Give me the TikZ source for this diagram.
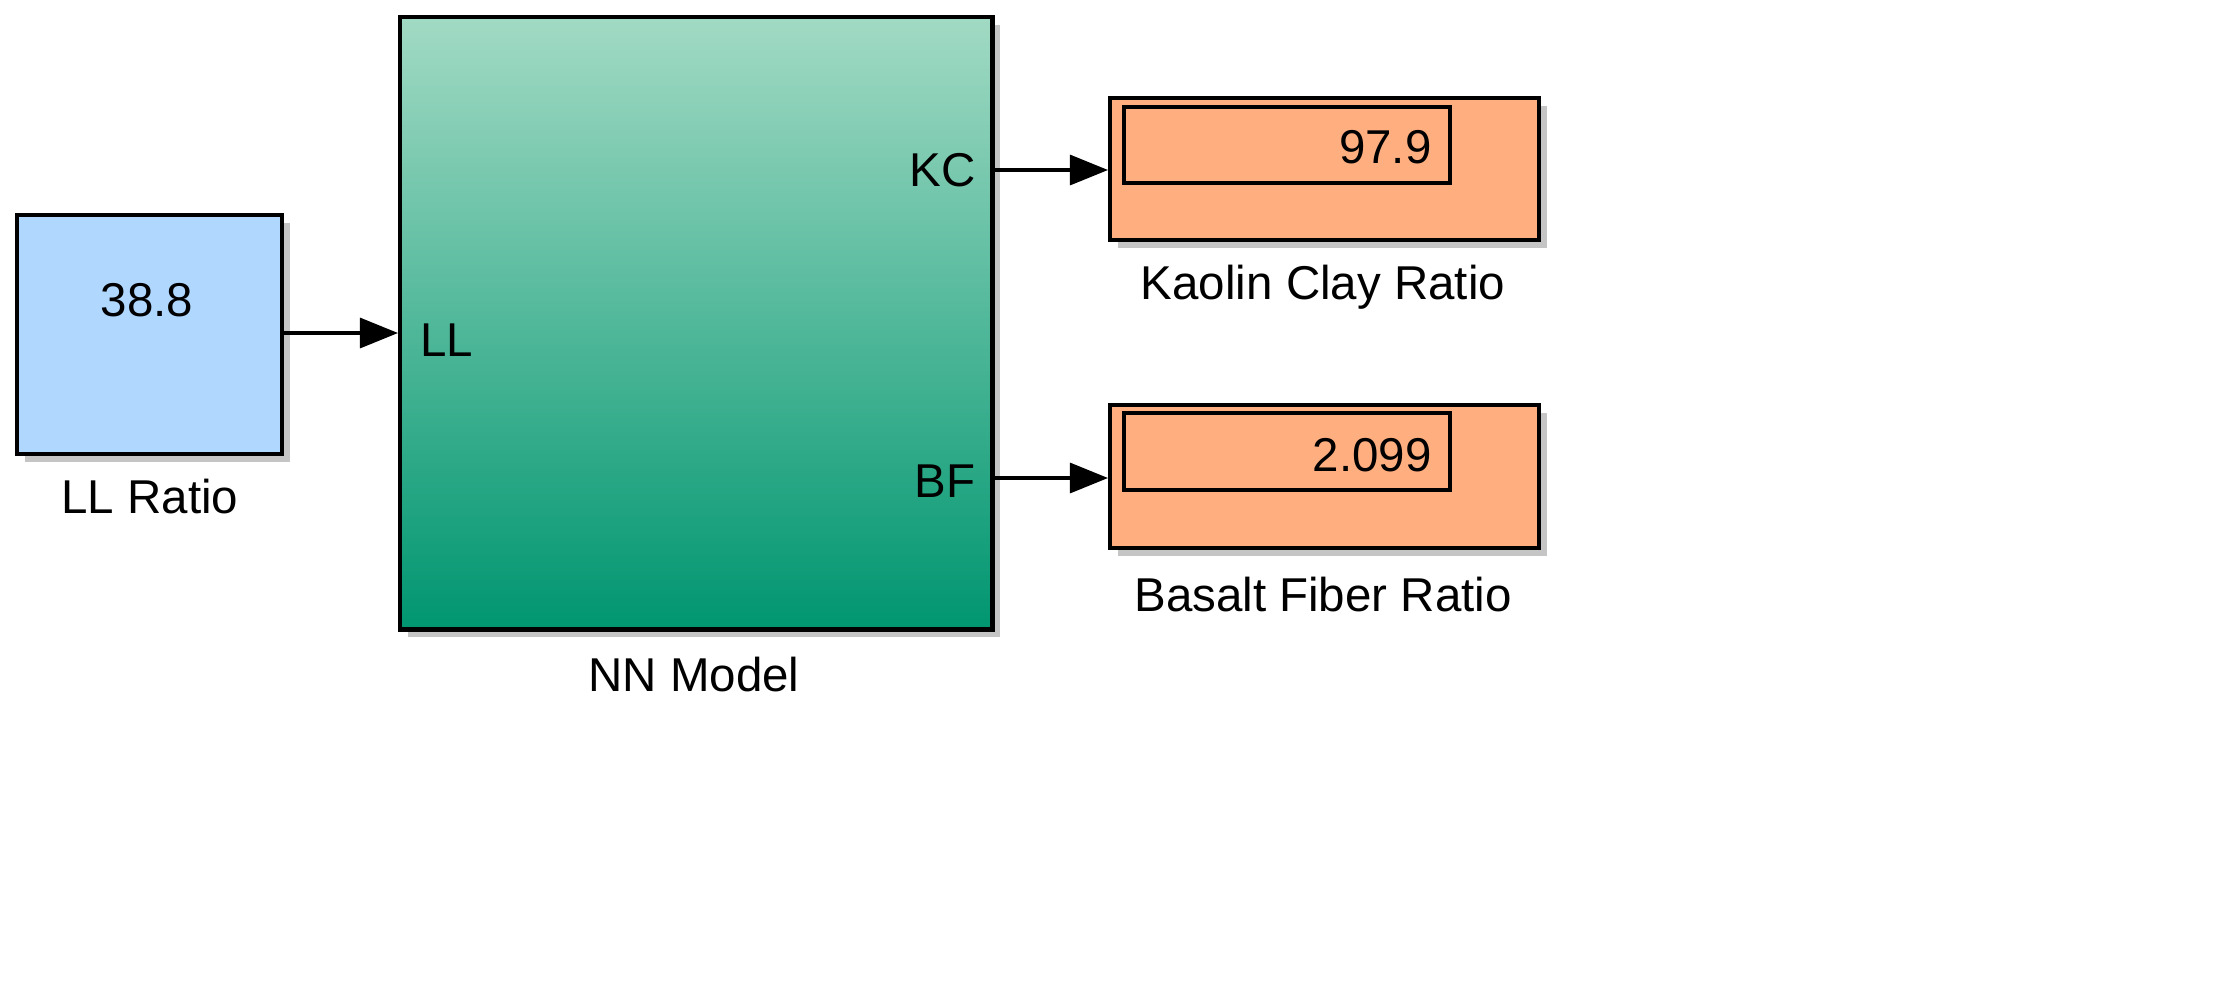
\documentclass[tikz,border=0pt]{standalone}
\usepackage{fontspec}
\setmainfont{Liberation Sans}
\usetikzlibrary{shadows,arrows.meta}
\definecolor{srcblue}{HTML}{B0D8FF}
\definecolor{nntop}{HTML}{A2DAC4}
\definecolor{nnmid}{HTML}{5DBB9A}
\definecolor{nnbot}{HTML}{009670}
\definecolor{dispfill}{HTML}{FFAE80}
\tikzset{
  blk/.style={draw=black, line width=1.2pt, drop shadow={shadow xshift=0.08cm, shadow yshift=-0.08cm, fill=black!45}},
  lbl/.style={font=\fontsize{13.5}{16}\selectfont},
  sig/.style={line width=0.9pt, -{Triangle[length=0.38cm, width=0.3cm]}}
}
\begin{document}
\begin{tikzpicture}[x=0.01cm, y=-0.01cm]
  \useasboundingbox (0,0) rectangle (2217,993);

  % Source block
  \node[blk, fill=srcblue, minimum width=2.65cm, minimum height=2.39cm, anchor=north west] (src) at (15,213) {};
  \node[lbl] (srcval) at (147,300) {38.8};
  \node[lbl] (srclbl) at (150,497) {LL Ratio};

  % Model block
  \node[blk, top color=nntop, middle color=nnmid, bottom color=nnbot, minimum width=5.92cm, minimum height=6.12cm, anchor=north west] (nn) at (398,15) {};
  \node[lbl] (nnlbl) at (694,675) {NN Model};
  \node[lbl, anchor=west] (portll) at (408,340) {LL};
  \node[lbl, anchor=east] (portkc) at (988,170) {KC};
  \node[lbl, anchor=east] (portbf) at (988,481) {BF};
  \coordinate (inll) at (398,333);
  \coordinate (outkc) at (990,170);
  \coordinate (outbf) at (990,478);

  % Displays
  \node[blk, fill=dispfill, minimum width=4.29cm, minimum height=1.42cm, anchor=north west] (kc) at (1108,96) {};
  \draw[line width=1.2pt] (1124,107) rectangle (1450,183);
  \node[lbl, anchor=east] (kcval) at (1444,147) {97.9};
  \node[lbl] (kclbl) at (1323,287) {Kaolin Clay Ratio};

  \node[blk, fill=dispfill, minimum width=4.29cm, minimum height=1.43cm, anchor=north west] (bf) at (1108,403) {};
  \draw[line width=1.2pt] (1124,413) rectangle (1450,490);
  \node[lbl, anchor=east] (bfval) at (1444,455) {2.099};
  \node[lbl] (bflbl) at (1323,595) {Basalt Fiber Ratio};

  % Signals
  \draw[sig] (src.east |- inll) -- (inll);
  \draw[sig] (outkc) -- (kc.west |- outkc);
  \draw[sig] (outbf) -- (bf.west |- outbf);
\end{tikzpicture}
\end{document}
